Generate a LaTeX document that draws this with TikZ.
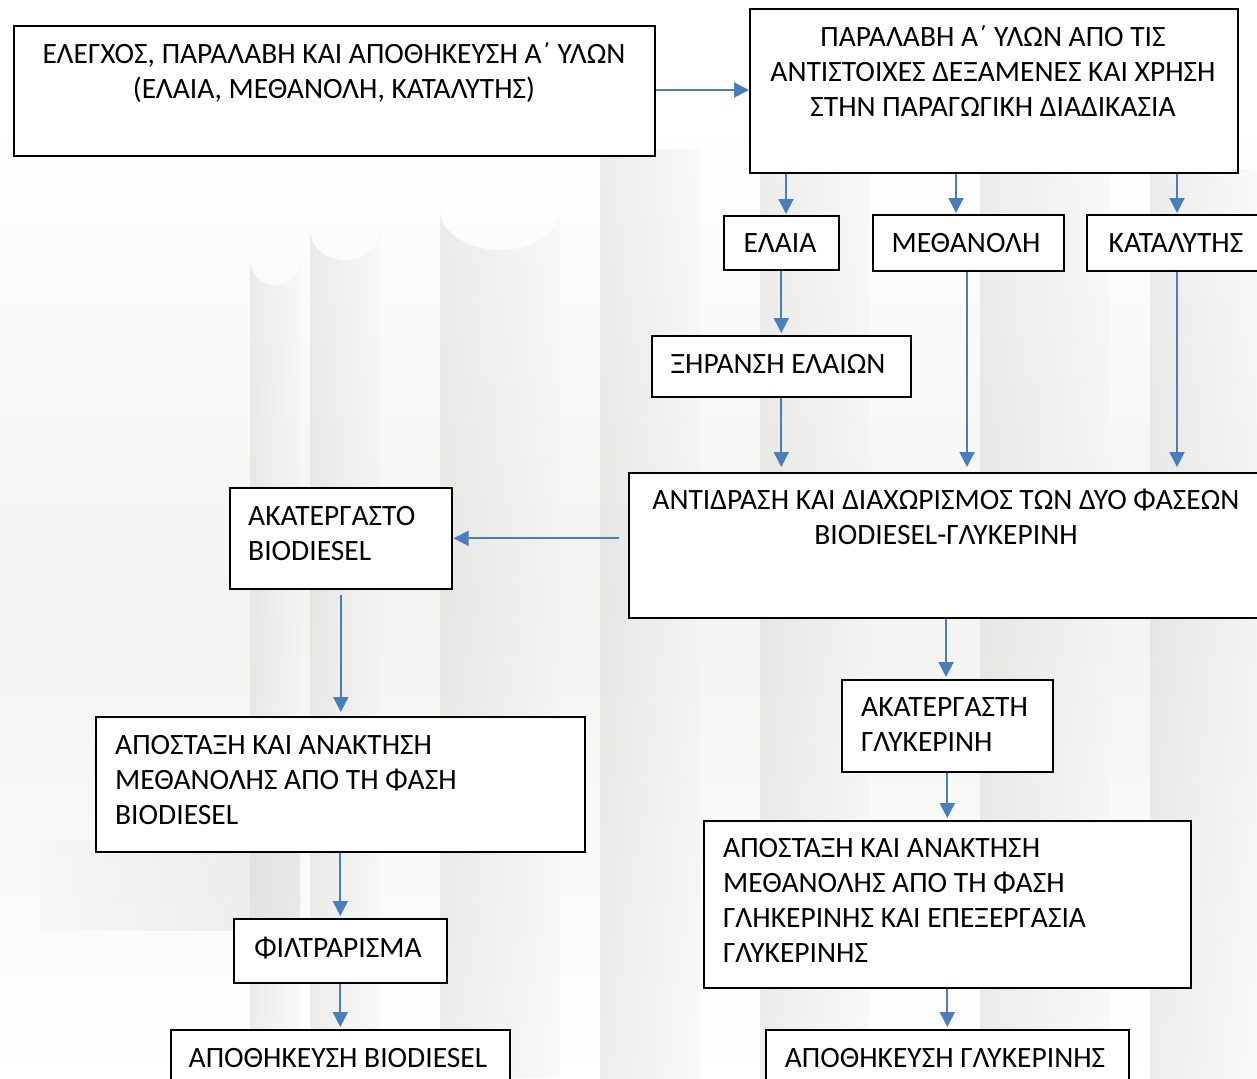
\documentclass[tikz,border=0pt]{standalone}
\usepackage{fontspec}
\setmainfont{Carlito}
\usetikzlibrary{arrows.meta,calc}
\definecolor{arrowblue}{HTML}{4A7EBB}
\definecolor{bgA}{HTML}{D2D2CE}
\definecolor{bgB}{HTML}{F3F3F1}
\tikzset{
  box/.style={draw=black, line width=1.6pt, fill=white, inner sep=0pt, anchor=north west},
  txt/.style={inner sep=0pt, font=\fontsize{29.5}{35}\selectfont},
  arr/.style={draw=arrowblue, line width=2pt, -{Triangle[length=15pt,width=15pt]}},
  silo/.style={left color=bgA, right color=bgB, draw=none, opacity=0.4},
}
\begin{document}
\begin{tikzpicture}[x=1pt,y=-1pt]
\useasboundingbox (0,0) rectangle (1257,1078);
% faint background photo (silos)
\shade[top color=white, bottom color=white, middle color=bgB] (0,120) rectangle (1257,1078);
\shade[silo] (250,260) arc[start angle=180, end angle=0, x radius=25, y radius=25] -- (300,1078) -- (250,1078) -- cycle;
\shade[silo] (310,230) arc[start angle=180, end angle=0, x radius=35, y radius=30] -- (380,1078) -- (310,1078) -- cycle;
\shade[silo] (440,210) arc[start angle=180, end angle=0, x radius=60, y radius=40] -- (560,1078) -- (440,1078) -- cycle;
\shade[silo] (600,150) rectangle (700,1078);
\shade[silo] (760,170) rectangle (870,1078);
\shade[silo] (980,170) rectangle (1110,1078);
\shade[silo] (1150,170) rectangle (1257,1078);
\shade[left color=bgB, right color=bgA, opacity=0.4] (40,840) rectangle (300,930);
% boxes
\node[box, minimum width=641, minimum height=130] (A) at (13,25) {};
\node[box, minimum width=488, minimum height=164] (B) at (749,8) {};
\node[box, minimum width=115, minimum height=54] (E) at (723,215) {};
\node[box, minimum width=191, minimum height=56] (M) at (872,214) {};
\node[box, minimum width=190, minimum height=56] (K) at (1086,214) {};
\node[box, minimum width=259, minimum height=61] (X) at (651,335) {};
\node[box, minimum width=640, minimum height=145] (R) at (628,472) {};
\node[box, minimum width=222, minimum height=101] (C) at (229,487) {};
\node[box, minimum width=489, minimum height=135] (D) at (95,716) {};
\node[box, minimum width=213, minimum height=64] (F) at (233,918) {};
\node[box, minimum width=339, minimum height=70] (S1) at (170,1029) {};
\node[box, minimum width=211, minimum height=92] (G) at (841,679) {};
\node[box, minimum width=487, minimum height=167] (H) at (703,820) {};
\node[box, minimum width=363, minimum height=70] (S2) at (765,1029) {};
% texts
\node[txt, align=center, anchor=north] (tA) at (334,43) {ΕΛΕΓΧΟΣ, ΠΑΡΑΛΑΒΗ ΚΑΙ ΑΠΟΘΗΚΕΥΣΗ Α΄ ΥΛΩΝ\\(ΕΛΑΙΑ, ΜΕΘΑΝΟΛΗ, ΚΑΤΑΛΥΤΗΣ)};
\node[txt, align=center, anchor=north] (tB) at (993,26) {ΠΑΡΑΛΑΒΗ Α΄ ΥΛΩΝ ΑΠΟ ΤΙΣ\\ΑΝΤΙΣΤΟΙΧΕΣ ΔΕΞΑΜΕΝΕΣ ΚΑΙ ΧΡΗΣΗ\\ΣΤΗΝ ΠΑΡΑΓΩΓΙΚΗ ΔΙΑΔΙΚΑΣΙΑ};
\node[txt, anchor=north] (tE) at (780,233) {ΕΛΑΙΑ};
\node[txt, anchor=north] (tM) at (966,233) {ΜΕΘΑΝΟΛΗ};
\node[txt, anchor=north] (tK) at (1176,233) {ΚΑΤΑΛΥΤΗΣ};
\node[txt, anchor=north] (tX) at (778,354) {ΞΗΡΑΝΣΗ ΕΛΑΙΩΝ};
\node[txt, align=center, anchor=north] (tR) at (946,489) {ΑΝΤΙΔΡΑΣΗ ΚΑΙ ΔΙΑΧΩΡΙΣΜΟΣ ΤΩΝ ΔΥΟ ΦΑΣΕΩΝ\\BIODIESEL-ΓΛΥΚΕΡΙΝΗ};
\node[txt, align=left, anchor=north west] (tC) at (248,506) {ΑΚΑΤΕΡΓΑΣΤΟ\\BIODIESEL};
\node[txt, align=left, anchor=north west] (tD) at (115,735) {ΑΠΟΣΤΑΞΗ ΚΑΙ ΑΝΑΚΤΗΣΗ\\ΜΕΘΑΝΟΛΗΣ ΑΠΟ ΤΗ ΦΑΣΗ\\BIODIESEL};
\node[txt, anchor=north] (tF) at (338,937) {ΦΙΛΤΡΑΡΙΣΜΑ};
\node[txt, anchor=north] (tS1) at (338,1048) {ΑΠΟΘΗΚΕΥΣΗ BIODIESEL};
\node[txt, align=left, anchor=north west] (tG) at (861,697) {ΑΚΑΤΕΡΓΑΣΤΗ\\ΓΛΥΚΕΡΙΝΗ};
\node[txt, align=left, anchor=north west] (tH) at (723,838) {ΑΠΟΣΤΑΞΗ ΚΑΙ ΑΝΑΚΤΗΣΗ\\ΜΕΘΑΝΟΛΗΣ ΑΠΟ ΤΗ ΦΑΣΗ\\ΓΛΗΚΕΡΙΝΗΣ ΚΑΙ ΕΠΕΞΕΡΓΑΣΙΑ\\ΓΛΥΚΕΡΙΝΗΣ};
\node[txt, anchor=north] (tS2) at (945,1048) {ΑΠΟΘΗΚΕΥΣΗ ΓΛΥΚΕΡΙΝΗΣ};
% connectors
\draw[arr] (A.east |- 0,90) -- (B.west |- 0,90);
\draw[arr] ($(B.south west)+(37,0)$) -- ($(E.north west)+(63,-1)$);
\draw[arr] ($(B.south west)+(207,0)$) -- ($(M.north west)+(84,-1)$);
\draw[arr] ($(B.south west)+(428,0)$) -- ($(K.north west)+(91,-1)$);
\draw[arr] (E.south) -- ($(X.north -| E.south)+(0,-2)$);
\draw[arr] (X.south) -- ($(R.north -| X.south)+(0,-5)$);
\draw[arr] ($(M.south west)+(95,0)$) -- ($(R.north west)+(339,-5)$);
\draw[arr] ($(K.south west)+(91,0)$) -- ($(R.north west)+(549,-5)$);
\draw[arr] ($(R.west |- C.east)+(-9,0)$) -- ($(C.east)+(1,0)$);
\draw[arr] ($(C.south)+(0,5)$) -- ($(D.north -| C.south)+(0,-4)$);
\draw[arr] (D.south) -- ($(F.north -| D.south)+(0,-2)$);
\draw[arr] (F.south) -- ($(S1.north -| F.south)+(0,-2)$);
\draw[arr] ($(R.south west)+(318,0)$) -- ($(G.north -| R.south west)+(318,-2)$);
\draw[arr] (G.south) -- ($(H.north -| G.south)+(0,-2)$);
\draw[arr] (H.south) -- ($(S2.north -| H.south)+(0,-2)$);
\end{tikzpicture}
\end{document}
